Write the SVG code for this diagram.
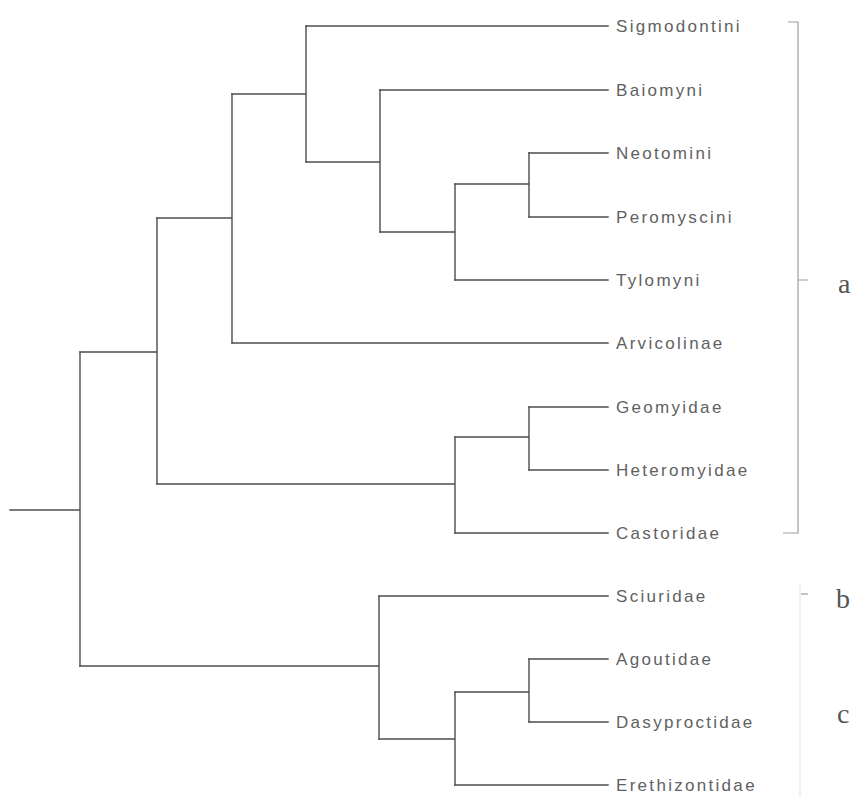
<svg xmlns="http://www.w3.org/2000/svg" width="854" height="797" viewBox="0 0 854 797">
<style>
.br{fill:none;stroke:#4d4d4d;stroke-width:1.4;stroke-linecap:square}
.lb{font-family:"Liberation Sans",Arial,sans-serif;font-size:17px;letter-spacing:2.3px;fill:#616161}
.gp{font-family:"Liberation Serif","Times New Roman",serif;font-size:28px;fill:#555}
.bk{fill:none;stroke:#a0a0a0;stroke-width:1.2}
.fb{fill:none;stroke:#e6e6e6;stroke-width:1.2}
</style>
<rect width="854" height="797" fill="#fff"/>
<g id="connectors">
<path class="br" d="M10,510H80M80,352V666"/>
<path class="br" d="M80,352H157M157,218V484"/>
<path class="br" d="M157,218H232M232,94V343"/>
<path class="br" d="M232,94H306M306,26V162"/>
<path class="br" d="M306,162H380M380,90V232"/>
<path class="br" d="M380,232H455M455,184V280"/>
<path class="br" d="M455,184H529M529,153V217"/>
<path class="br" d="M157,484H455M455,437V533"/>
<path class="br" d="M455,437H529M529,407V470"/>
<path class="br" d="M80,666H379M379,596V739"/>
<path class="br" d="M379,739H455M455,692V785"/>
<path class="br" d="M455,692H529M529,659V722"/>
<path class="br" d="M306,26H608M380,90H608M529,153H608M529,217H608M455,280H608M232,343H608M529,407H608M529,470H608M455,533H608M379,596H608M529,659H608M529,722H608M455,785H608"/>
</g>
<g id="leaf-sigmodontini"><text class="lb" x="616" y="32">Sigmodontini</text></g>
<g id="leaf-baiomyni"><text class="lb" x="616" y="96">Baiomyni</text></g>
<g id="leaf-neotomini"><text class="lb" x="616" y="159">Neotomini</text></g>
<g id="leaf-peromyscini"><text class="lb" x="616" y="223">Peromyscini</text></g>
<g id="leaf-tylomyni"><text class="lb" x="616" y="286">Tylomyni</text></g>
<g id="leaf-arvicolinae"><text class="lb" x="616" y="349">Arvicolinae</text></g>
<g id="leaf-geomyidae"><text class="lb" x="616" y="413">Geomyidae</text></g>
<g id="leaf-heteromyidae"><text class="lb" x="616" y="476">Heteromyidae</text></g>
<g id="leaf-castoridae"><text class="lb" x="616" y="539">Castoridae</text></g>
<g id="leaf-sciuridae"><text class="lb" x="616" y="602">Sciuridae</text></g>
<g id="leaf-agoutidae"><text class="lb" x="616" y="665">Agoutidae</text></g>
<g id="leaf-dasyproctidae"><text class="lb" x="616" y="728">Dasyproctidae</text></g>
<g id="leaf-erethizontidae"><text class="lb" x="616" y="791">Erethizontidae</text></g>
<g id="group-a">
<path class="bk" d="M788,22H798V533H783M798,280H808"/>
<text class="gp" x="838" y="293">a</text>
</g>
<g id="group-b">
<path class="fb" d="M800,585V797"/>
<path class="bk" d="M801,594H808"/>
<text class="gp" x="836" y="608">b</text>
</g>
<g id="group-c">
<text class="gp" x="837" y="723">c</text>
</g>
</svg>
